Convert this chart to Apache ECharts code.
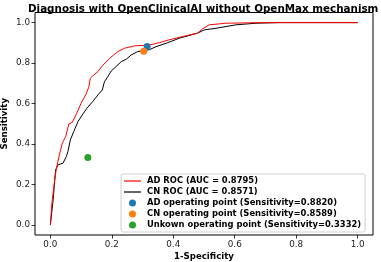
<!DOCTYPE html>
<html><head><meta charset="utf-8">
<script src="https://cdn.jsdelivr.net/npm/echarts@6/dist/echarts.min.js"></script>
<style>html,body{margin:0;padding:0;background:#fff}#c{width:381px;height:262px}</style>
</head><body><div id="c"></div>
<script>
var titleText = 'Diagnosis with OpenClinicalAI without OpenMax mechanism';
var xName = '1-Specificity';
var yName = 'Sensitivity';
var tickValues = [0, 0.2, 0.4, 0.6, 0.8, 1.0];

var adFpr = [0, 0.005, 0.014, 0.019, 0.028, 0.039, 0.05, 0.06, 0.071, 0.086, 0.1, 0.115, 0.125, 0.13, 0.138, 0.155, 0.169, 0.193, 0.22, 0.241, 0.274, 0.322, 0.355, 0.387, 0.43, 0.479, 0.495, 0.517, 0.571, 0.647, 0.68, 1.0];
var adTpr = [0, 0.107, 0.222, 0.272, 0.338, 0.404, 0.437, 0.499, 0.506, 0.552, 0.601, 0.643, 0.681, 0.725, 0.737, 0.758, 0.786, 0.824, 0.857, 0.873, 0.885, 0.889, 0.901, 0.915, 0.931, 0.948, 0.969, 0.989, 0.997, 0.999, 1.0, 1.0];

var cnFpr = [0, 0.009, 0.017, 0.025, 0.041, 0.052, 0.057, 0.065, 0.076, 0.09, 0.104, 0.119, 0.138, 0.155, 0.169, 0.176, 0.187, 0.198, 0.214, 0.231, 0.247, 0.263, 0.284, 0.322, 0.344, 0.377, 0.42, 0.479, 0.501, 0.539, 0.604, 0.669, 0.744, 1.0];
var cnTpr = [0, 0.124, 0.272, 0.297, 0.305, 0.338, 0.362, 0.42, 0.461, 0.511, 0.544, 0.577, 0.61, 0.643, 0.667, 0.708, 0.733, 0.761, 0.783, 0.807, 0.819, 0.84, 0.857, 0.866, 0.881, 0.898, 0.923, 0.948, 0.964, 0.972, 0.989, 0.997, 1.0, 1.0];

var adPoint = [0.315, 0.8820];
var cnPoint = [0.304, 0.8589];
var unkPoint = [0.122, 0.3332];

var names = ['AD ROC (AUC = 0.8795)', 'CN ROC (AUC = 0.8571)',
  'AD operating point (Sensitivity=0.8820)', 'CN operating point (Sensitivity=0.8589)',
  'Unkown operating point (Sensitivity=0.3332)'];

function zip(a, b) { return a.map(function (v, i) { return [v, b[i]]; }); }

var F = 'DejaVu Sans';
var lineIcon = 'path://M0,0H170V12H0Z';
var chart = echarts.init(document.getElementById('c'), null, {renderer: 'canvas'});
function axis(name, gap) {
  return {
    type: 'value', min: -0.05, max: 1.05, name: name, nameGap: gap, nameMoveOverlap: false,
    splitLine: {show: false},
    axisLine: {show: false, onZero: false},
    axisTick: {show: true, length: 3.5, lineStyle: {color: '#000', width: 0.8}, customValues: tickValues},
    axisLabel: {fontFamily: F, fontSize: 8.8, color: '#222', margin: 5, customValues: tickValues,
      formatter: function (v) { return v.toFixed(1); }},
    nameLocation: 'middle',
    nameTextStyle: {fontFamily: F, fontSize: 8.6, fontWeight: 'bold', color: '#000'}
  };
}
chart.setOption({
  animation: false,
  title: {text: titleText, left: 23, top: -1,
    textStyle: {fontFamily: F, fontSize: 10.35, fontWeight: 'bold', color: '#000'}},
  grid: {left: 35, right: 8, top: 12.5, bottom: 27, outerBoundsMode: 'none', containLabel: false,
    show: true, borderColor: '#000', borderWidth: 1, backgroundColor: 'transparent'},
  xAxis: axis(xName, 17),
  yAxis: axis(yName, 26),
  legend: {
    orient: 'vertical', left: 121, top: 174, width: 248,
    itemWidth: 17, itemHeight: 7, itemGap: 3.0,
    padding: [3, 4, 3, 3],
    borderColor: '#d0d0d0', borderWidth: 1, borderRadius: 2,
    backgroundColor: 'rgba(255,255,255,0.85)',
    textStyle: {fontFamily: F, fontSize: 8.4, fontWeight: 'bold', color: '#000', padding: [0, 0, 0, 1]},
    data: [
      {name: names[0], icon: lineIcon},
      {name: names[1], icon: lineIcon},
      {name: names[2], icon: 'circle'},
      {name: names[3], icon: 'circle'},
      {name: names[4], icon: 'circle'}
    ]
  },
  series: [
    {name: names[0], type: 'line', data: zip(adFpr, adTpr), showSymbol: false, symbol: 'none',
      lineStyle: {color: '#ff0000', width: 1}, itemStyle: {color: '#ff0000'}, z: 3},
    {name: names[1], type: 'line', data: zip(cnFpr, cnTpr), showSymbol: false, symbol: 'none',
      lineStyle: {color: '#000', width: 1}, itemStyle: {color: '#000'}, z: 2},
    {name: names[2], type: 'scatter', data: [adPoint], symbolSize: 7, itemStyle: {color: '#1f77b4', opacity: 1}, z: 4},
    {name: names[3], type: 'scatter', data: [cnPoint], symbolSize: 7, itemStyle: {color: '#ff7f0e', opacity: 1}, z: 5},
    {name: names[4], type: 'scatter', data: [unkPoint], symbolSize: 7, itemStyle: {color: '#2ca02c', opacity: 1}, z: 4}
  ]
});
</script></body></html>
